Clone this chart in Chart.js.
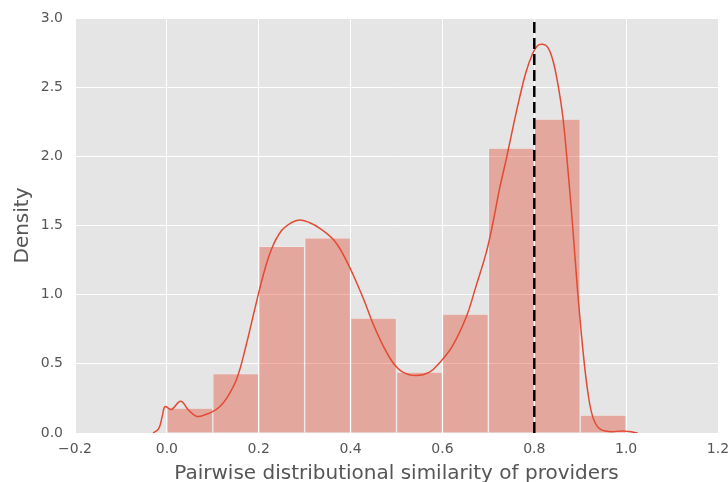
<!DOCTYPE html>
<html>
<head>
<meta charset="utf-8">
<script src="https://cdn.jsdelivr.net/npm/chart.js@4.4.1/dist/chart.umd.min.js"></script>
<style>
  html, body { margin: 0; padding: 0; background: #ffffff; }
  #wrap { width: 728px; height: 482px; }
</style>
</head>
<body>
<div id="wrap"><canvas id="c" width="728" height="482"></canvas></div>
<script>
// Histogram bins (bin centers, width 0.1) and densities
const binCenters = [0.05, 0.15, 0.25, 0.35, 0.45, 0.55, 0.65, 0.75, 0.85, 0.95];
const binDensity = [0.18, 0.43, 1.35, 1.41, 0.83, 0.44, 0.86, 2.06, 2.27, 0.13];

// KDE curve
const kdeX = [-0.03, -0.018, -0.01, -0.004, 0.01, 0.03, 0.046, 0.065, 0.086, 0.1, 0.115, 0.13, 0.152, 0.173, 0.191, 0.209, 0.228, 0.249, 0.271, 0.289, 0.311, 0.333, 0.362, 0.384, 0.406, 0.428, 0.449, 0.471, 0.492, 0.514, 0.543, 0.572, 0.593, 0.622, 0.652, 0.673, 0.695, 0.71, 0.724, 0.739, 0.753, 0.767, 0.782, 0.796, 0.807, 0.818, 0.829, 0.840, 0.851, 0.862, 0.872, 0.883, 0.894, 0.905, 0.916, 0.927, 0.941, 0.963, 0.992, 1.0065, 1.025];
const kdeY = [0.0, 0.03, 0.12, 0.19, 0.17, 0.23, 0.17, 0.12, 0.135, 0.155, 0.19, 0.25, 0.39, 0.64, 0.89, 1.13, 1.33, 1.46, 1.52, 1.54, 1.52, 1.48, 1.40, 1.29, 1.14, 0.97, 0.79, 0.63, 0.51, 0.44, 0.415, 0.44, 0.505, 0.63, 0.84, 1.06, 1.30, 1.52, 1.76, 1.98, 2.20, 2.41, 2.61, 2.74, 2.80, 2.81, 2.79, 2.70, 2.53, 2.29, 1.95, 1.52, 1.04, 0.63, 0.31, 0.12, 0.034, 0.01, 0.015, 0.01, 0.0];

// Reference (threshold) line
const thresholdX = 0.8;

const xTicks = [-0.2, 0.0, 0.2, 0.4, 0.6, 0.8, 1.0, 1.2];
const yTicks = [0.0, 0.5, 1.0, 1.5, 2.0, 2.5, 3.0];

const xLabel = 'Pairwise distributional similarity of providers';
const yLabel = 'Density';

const barData = binCenters.map((x, i) => ({ x: x, y: binDensity[i] }));
const kdeData = kdeX.map((x, i) => ({ x: x, y: kdeY[i] }));
const threshData = [{ x: thresholdX, y: yTicks[0] }, { x: thresholdX, y: yTicks[yTicks.length - 1] }];

const fmt = v => {
  const s = Math.abs(v).toFixed(1);
  return (v < -1e-9 ? '\u2212' : '') + s;
};

const bgPlugin = {
  id: 'bg',
  beforeDraw(chart) {
    const { ctx, chartArea: a } = chart;
    ctx.save();
    ctx.fillStyle = '#ffffff';
    ctx.fillRect(0, 0, chart.width, chart.height);
    ctx.fillStyle = '#E5E5E5';
    ctx.fillRect(a.left, a.top, a.right - a.left, a.bottom - a.top);
    ctx.restore();
  }
};

const FONT = "'DejaVu Sans', 'Liberation Sans', sans-serif";

new Chart(document.getElementById('c'), {
  type: 'bar',
  data: {
    datasets: [
      {
        type: 'line',
        data: threshData,
        borderColor: '#000000',
        borderWidth: 2.5,
        borderDash: [11, 5],
        pointRadius: 0,
        fill: false,
        order: 0
      },
      {
        type: 'line',
        data: kdeData,
        borderColor: '#E24A33',
        borderWidth: 1.5,
        pointRadius: 0,
        tension: 0.4,
        fill: false,
        order: 1
      },
      {
        type: 'bar',
        data: barData,
        backgroundColor: 'rgba(226,74,51,0.4)',
        borderColor: 'rgba(255,255,255,0.2)',
        borderWidth: 1,
        borderSkipped: 'start',
        barPercentage: 1.0,
        categoryPercentage: 1.0,
        grouped: false,
        order: 2
      }
    ]
  },
  options: {
    responsive: false,
    animation: false,
    devicePixelRatio: 1,
    layout: { padding: { left: 0, right: 10, top: 18, bottom: 0 } },
    plugins: { legend: { display: false }, tooltip: { enabled: false } },
    scales: {
      x: {
        type: 'linear',
        offset: false,
        min: xTicks[0],
        max: xTicks[xTicks.length - 1],
        afterBuildTicks(scale) { scale.ticks = xTicks.map(v => ({ value: v })); },
        afterFit(scale) { scale.height = 49; scale.paddingLeft = 0; scale.paddingRight = 0; },
        grid: { color: '#ffffff', lineWidth: 1, drawTicks: false, offset: false },
        border: { display: false },
        ticks: {
          color: '#555555',
          font: { family: FONT, size: 14 },
          padding: 8,
          maxRotation: 0,
          autoSkip: false,
          callback: v => fmt(v)
        },
        title: {
          display: true,
          text: xLabel,
          color: '#555555',
          font: { family: FONT, size: 20 },
          padding: { top: 0, bottom: -4 }
        }
      },
      y: {
        type: 'linear',
        min: yTicks[0],
        max: yTicks[yTicks.length - 1],
        afterBuildTicks(scale) { scale.ticks = yTicks.map(v => ({ value: v })); },
        afterFit(scale) { scale.width = 75; scale.paddingTop = 0; scale.paddingBottom = 0; },
        grid: { color: '#ffffff', lineWidth: 1, drawTicks: false },
        border: { display: false },
        ticks: {
          color: '#555555',
          font: { family: FONT, size: 14 },
          padding: 12,
          autoSkip: false,
          callback: v => fmt(v)
        },
        title: {
          display: true,
          text: yLabel,
          color: '#555555',
          font: { family: FONT, size: 20 },
          padding: { top: 11, bottom: 0 }
        }
      }
    }
  },
  plugins: [bgPlugin]
});
</script>
</body>
</html>
